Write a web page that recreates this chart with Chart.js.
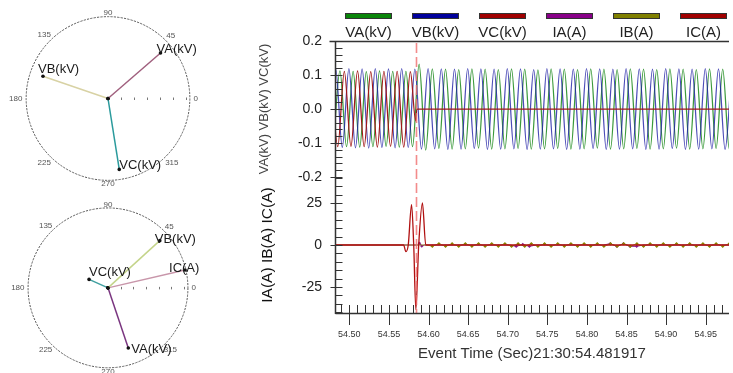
<!DOCTYPE html>
<html><head><meta charset="utf-8">
<script src="https://cdn.jsdelivr.net/npm/chart.js@4.4.0/dist/chart.umd.min.js"></script>
<style>
html,body{margin:0;padding:0;background:#fff;overflow:hidden;width:733px;height:373px;}
#wrap{position:relative;width:733px;height:373px;font-family:"Liberation Sans",Arial,sans-serif;}
canvas{position:absolute;}
.lgbar{position:absolute;height:6px;width:47px;box-sizing:border-box;border:1px solid #333;}
.lgtxt{position:absolute;width:80px;text-align:center;font-size:15px;color:#222;line-height:18px;}
</style></head><body><div id="wrap">
<canvas id="p1" width="216" height="197" style="left:0;top:0;width:216px;height:197px"></canvas>
<canvas id="p2" width="216" height="176" style="left:0;top:197px;width:216px;height:176px"></canvas>
<canvas id="main" width="483" height="373" style="left:250px;top:0;width:483px;height:373px"></canvas>
<div id="legend"></div>
</div>
<script>
// ---------------- data ----------------
const seriesNames = ['VA(kV)','VB(kV)','VC(kV)','IA(A)','IB(A)','IC(A)'];
const eventStart = 54.481917;
const xEnd = 54.9794;
const halfCycle = 1/120;
const faultTime = 54.5844;
const xTickValues = [54.50,54.55,54.60,54.65,54.70,54.75,54.80,54.85,54.90,54.95];
const vTickValues = [-0.2,-0.1,0.0,0.1,0.2];
const iTickValues = [-25,0,25];

// successive half-cycle extremes of each voltage (kV)
const vaStart = 54.4798;
const vaExtremes = [-0.110,0.112,-0.111,0.111,-0.112,0.110,-0.111,0.112,-0.110,0.111,-0.112,0.111,-0.111,
  0.132,-0.121,
  0.118,-0.116,0.117,-0.118,0.116,-0.117,0.118,-0.115,0.117,-0.118,
  0.116,-0.117,0.118,-0.116,0.117,-0.118,0.115,-0.117,0.118,-0.116,
  0.117,-0.118,0.116,-0.117,0.118,-0.115,0.117,-0.118,0.116,-0.117,
  0.118,-0.116,0.117,-0.118,0.116,-0.117,0.118,-0.115,0.117,-0.118,
  0.116,-0.117,0.118,-0.116,0.117,-0.118,0.116];
const vbStart = 54.47446;
const vbExtremes = [-0.114,0.118,-0.113,0.119,-0.114,0.118,-0.115,0.119,-0.113,0.118,-0.114,0.119,-0.113,0.117,
  -0.118,0.119,-0.117,0.118,-0.119,0.117,-0.118,0.119,-0.116,0.118,
  -0.119,0.117,-0.118,0.119,-0.117,0.118,-0.119,0.116,-0.118,0.119,
  -0.117,0.118,-0.119,0.117,-0.118,0.119,-0.116,0.118,-0.119,0.117,
  -0.118,0.119,-0.117,0.118,-0.119,0.117,-0.118,0.119,-0.116,0.118,
  -0.119,0.117,-0.118,0.119,-0.117,0.118,-0.119,0.117];
const vcStart = 54.47705;
const vcExtremes = [0.110,-0.111,0.111,-0.110,0.112,-0.111,0.110,-0.112,0.111,-0.110,0.111,-0.112,0.110];
const vcTailTimes = [54.5838,54.5852,54.9900];
const vcTailValues = [-0.035,0,0];

// currents (A)
const icTimes  = [54.4700,54.5685,54.5715,54.5744,54.5786,54.5813,54.5840,54.5876,54.5923,54.5965,54.9900];
const icValues = [0,0,-4,0,24,0,-38.5,0,25,0,0];
const ibLeadTimes = [54.4700,54.5980];
const ibLeadValues = [0,0];
const ibStart = 54.6048;
const ibExtremes = [-0.7,0.8,-0.8,0.7,-0.8,0.8,-0.7,0.8,-0.8,0.8,
  -0.7,0.8,-0.8,0.7,-0.8,0.8,-0.8,0.7,-0.8,0.8,
  -0.7,0.8,-0.8,0.8,-0.7,0.8,-0.8,0.7,-0.8,0.8,
  -0.8,0.7,-0.8,0.8,-0.7,0.8,-0.8,0.8,-0.7,0.8,
  -0.8,0.7,-0.8,0.8,-0.7,0.8];
const iaTimes  = [54.4700,54.5860,54.5885,54.5915,54.5945,54.7024,54.7107,54.7190,54.7274,54.7357,54.8211,54.8294,54.8378,54.8461,54.8544,54.8628,54.8711,54.9900];
const iaValues = [0,0,1.0,-0.6,0,0,-0.8,0.3,-0.8,0,0,0.8,-0.8,0.8,-0.8,-0.8,0,0];

// phasor diagrams
const angleLabels = [0,45,90,135,180,225,270,315];
const topNames  = ['VA(kV)','VB(kV)','VC(kV)'];
const topMags   = [0.85,0.84,0.88];
const topAngles = [41,161,279];
const botNames  = ['VB(kV)','IC(A)','VC(kV)','VA(kV)'];
const botMags   = [0.88,0.99,0.26,0.80];
const botAngles = [42.6,13.2,155.7,288.5];

// ---------------- styles ----------------
const FONT = '"Liberation Sans", Arial, sans-serif';
Chart.defaults.font.family = FONT;
const legendColors = ['#0a850a','#00009c','#a00000','#880088','#808000','#a00000'];
const lineColors = {VA:'rgba(25,135,25,0.85)', VB:'rgba(30,30,165,0.8)', VC:'#a01818', IA:'#8a1a8a', IB:'#8a8200', IC:'#b01010'};
const topColors = ['#a0607e','#d8d2a4','#2a9a9c'];
const topLabelOff = [[-4,-4],[-5,-7],[0,-4]];
const botColors = ['#c4d48a','#c896aa','#40a0a0','#7a3680'];
const botLabelOff = [[-5,-1],[-16,-2],[0,-7],[3,1]];

// legend
const lg = document.getElementById('legend');
seriesNames.forEach((n,i)=>{
  const cx = 368.5 + i*67;
  const b = document.createElement('div'); b.className='lgbar';
  b.style.left=(cx-23.5)+'px'; b.style.top='13px'; b.style.background=legendColors[i];
  lg.appendChild(b);
  const t = document.createElement('div'); t.className='lgtxt'; t.textContent=n;
  t.style.left=(cx-40)+'px'; t.style.top='23px';
  lg.appendChild(t);
});

// ---------------- main chart ----------------
function gridSeries(start, vals){ return vals.map((v,i)=>({x:start+i*halfCycle, y:v})); }
function pairSeries(ts, vs){ return ts.map((t,i)=>({x:t, y:vs[i]})); }
const markerRadius = c => (c.raw && c.raw.y !== 0) ? 1.7 : 0;

const axisPlugin = {
  id:'axisDeco',
  afterDatasetsDraw(chart){
    const {ctx, chartArea:{left,right,top,bottom}, scales:{x,yV,yI}} = chart;
    ctx.save();
    // fault marker
    const fx = Math.round(x.getPixelForValue(faultTime))+0.5;
    ctx.strokeStyle='rgba(240,110,110,0.8)'; ctx.lineWidth=1.6; ctx.setLineDash([10,4]);
    ctx.beginPath(); ctx.moveTo(fx, top+2); ctx.lineTo(fx, bottom); ctx.stroke();
    ctx.setLineDash([]);
    ctx.strokeStyle='#333'; ctx.lineWidth=1.5;
    const L = Math.round(left)+0.5;
    ctx.beginPath();
    ctx.moveTo(L-6, Math.round(yV.getPixelForValue(0.2))+0.5); ctx.lineTo(right, Math.round(yV.getPixelForValue(0.2))+0.5);
    ctx.moveTo(L, top); ctx.lineTo(L, bottom+1);
    ctx.moveTo(L, Math.round(bottom)+0.5); ctx.lineTo(right, Math.round(bottom)+0.5);
    ctx.stroke();
    ctx.lineWidth=1;
    ctx.beginPath();
    for (let k=-10;k<=10;k++){
      const py = Math.round(yV.getPixelForValue(k*0.02))+0.5;
      ctx.moveTo(k%5===0 ? L-5 : L, py); ctx.lineTo(L+7, py);
    }
    for (let k=-8;k<=8;k++){
      const py = Math.round(yI.getPixelForValue(k*5))+0.5;
      ctx.moveTo(k%5===0 ? L-5 : L, py); ctx.lineTo(L+7, py);
    }
    for (let k=5449;k<=5497;k++){
      const px = Math.round(x.getPixelForValue(k/100))+0.5;
      if (px < left) continue;
      ctx.moveTo(px, bottom-8); ctx.lineTo(px, k%5===0 ? bottom+12 : bottom);
    }
    ctx.stroke();
    ctx.restore();
  }
};

const smooth = {cubicInterpolationMode:'monotone'};
new Chart(document.getElementById('main'), {
  type:'line',
  data:{ datasets:[
    Object.assign({label:seriesNames[0], data:gridSeries(vaStart, vaExtremes), yAxisID:'yV', borderColor:lineColors.VA, borderWidth:1.25, pointRadius:0, order:3}, smooth),
    Object.assign({label:seriesNames[1], data:gridSeries(vbStart, vbExtremes), yAxisID:'yV', borderColor:lineColors.VB, borderWidth:1.25, pointRadius:0, order:2}, smooth),
    Object.assign({label:seriesNames[2], data:gridSeries(vcStart, vcExtremes).concat(pairSeries(vcTailTimes, vcTailValues)), yAxisID:'yV', borderColor:lineColors.VC, borderWidth:1.25, pointRadius:0, order:1}, smooth),
    {label:seriesNames[3], data:pairSeries(iaTimes, iaValues), yAxisID:'yI', borderColor:lineColors.IA, backgroundColor:lineColors.IA, borderWidth:1, pointRadius:markerRadius, pointStyle:'rectRot', pointBorderWidth:0, tension:0, order:6},
    {label:seriesNames[4], data:pairSeries(ibLeadTimes, ibLeadValues).concat(gridSeries(ibStart, ibExtremes)), yAxisID:'yI', borderColor:lineColors.IB, backgroundColor:lineColors.IB, borderWidth:0.8, pointRadius:markerRadius, pointStyle:'rectRot', pointBorderWidth:0, tension:0, order:5},
    Object.assign({label:seriesNames[5], data:pairSeries(icTimes, icValues), yAxisID:'yI', borderColor:lineColors.IC, borderWidth:1.3, pointRadius:0, order:4}, smooth)
  ]},
  options:{
    responsive:false, animation:false, events:[],
    layout:{padding:{top:41,left:0,right:0,bottom:0}},
    plugins:{legend:{display:false}, tooltip:{enabled:false}},
    scales:{
      x:{type:'linear', position:'bottom', min:eventStart, max:xEnd,
        afterBuildTicks:s=>{ s.ticks = xTickValues.map(v=>({value:v})); },
        afterFit:s=>{ s.height=60; s.paddingLeft=0; s.paddingRight=0; },
        ticks:{autoSkip:false, maxRotation:0, padding:16, color:'#333', font:{size:9}, callback:v=>Number(v).toFixed(2)},
        grid:{display:false, drawTicks:false}, border:{display:false},
        title:{display:true, text:'Event Time (Sec)21:30:54.481917', color:'#333', font:{size:15}, padding:{top:0,bottom:10}}},
      yI:{type:'linear', position:'left', stack:'y', stackWeight:1, min:-40.5, max:40.5,
        afterBuildTicks:s=>{ s.ticks = iTickValues.map(v=>({value:v})); },
        afterFit:s=>{ s.width=85; s.paddingTop=0; s.paddingBottom=0; },
        ticks:{autoSkip:false, padding:13, color:'#222', font:{size:14}, callback:v=>String(v)},
        grid:{display:false, drawTicks:false}, border:{display:false},
        title:{display:true, text:'IA(A) IB(A) IC(A)', color:'#111', font:{size:15.5}, padding:{top:8,bottom:0}}},
      yV:{type:'linear', position:'left', stack:'y', stackWeight:1, min:-0.2, max:0.2,
        afterBuildTicks:s=>{ s.ticks = vTickValues.map(v=>({value:v})); },
        afterFit:s=>{ s.width=85; s.paddingTop=0; s.paddingBottom=0; },
        ticks:{autoSkip:false, padding:13, color:'#222', font:{size:14}, callback:v=>Number(v).toFixed(1)},
        grid:{display:false, drawTicks:false}, border:{display:false},
        title:{display:true, text:'VA(kV) VB(kV) VC(kV)', color:'#444', font:{size:13}, padding:{top:7,bottom:0}}}
    }
  },
  plugins:[axisPlugin]
});

// ---------------- phasor charts ----------------
const polarPlugin = {
  id:'polarDeco',
  beforeDatasetsDraw(chart, args, opts){
    const {ctx, scales:{x,y}} = chart;
    const cx = x.getPixelForValue(0), cy = y.getPixelForValue(0);
    const R = x.getPixelForValue(1) - cx;
    ctx.save();
    ctx.strokeStyle='#5a5a5a'; ctx.lineWidth=1; ctx.setLineDash([2.2,1.2]);
    ctx.beginPath(); ctx.arc(cx,cy,R,0,Math.PI*2); ctx.stroke();
    ctx.setLineDash([]);
    ctx.strokeStyle='#777';
    ctx.beginPath();
    for (let k=1;k<=6;k++){ const px=Math.round(cx+k*0.158*R)+0.5; ctx.moveTo(px,cy-1); ctx.lineTo(px,cy+1.5); }
    ctx.stroke();
    ctx.font='8px '+FONT; ctx.fillStyle='#555'; ctx.textAlign='center'; ctx.textBaseline='middle';
    angleLabels.forEach(a=>{
      const r = a*Math.PI/180; const w = ctx.measureText(String(a)).width;
      const d = R*1.045 + w/2*Math.abs(Math.cos(r));
      ctx.fillText(String(a), cx + d*Math.cos(r), cy - d*Math.sin(r));
    });
    ctx.restore();
  },
  afterDatasetsDraw(chart, args, opts){
    const {ctx} = chart;
    ctx.save();
    ctx.font='13px '+FONT; ctx.fillStyle='#1a1a1a'; ctx.textAlign='left'; ctx.textBaseline='middle';
    chart.data.datasets.forEach((ds,i)=>{
      const pt = chart.getDatasetMeta(i).data[1];
      const off = opts.offsets[i];
      ctx.fillText(ds.label, pt.x+off[0], pt.y+off[1]);
    });
    ctx.restore();
  }
};
function phasorChart(id, names, mags, angles, colors, offsets, R, cxPx, cyPx, w, h){
  const datasets = names.map((n,i)=>{
    const a = angles[i]*Math.PI/180;
    return {label:n, data:[{x:0,y:0},{x:mags[i]*Math.cos(a), y:mags[i]*Math.sin(a)}],
      showLine:true, borderColor:colors[i], borderWidth:1.5, pointRadius:1.8,
      pointBackgroundColor:'#111', pointBorderWidth:0};
  });
  new Chart(document.getElementById(id), {
    type:'scatter', data:{datasets},
    options:{responsive:false, animation:false, events:[],
      layout:{padding:0},
      plugins:{legend:{display:false}, tooltip:{enabled:false}, polarDeco:{offsets}},
      scales:{
        x:{type:'linear', display:false, min:-cxPx/R, max:(w-cxPx)/R},
        y:{type:'linear', display:false, min:-(h-cyPx)/R, max:cyPx/R}
      }},
    plugins:[polarPlugin]
  });
}
phasorChart('p1', topNames, topMags, topAngles, topColors, topLabelOff, 85, 108, 98.5, 216, 197);
phasorChart('p2', botNames, botMags, botAngles, botColors, botLabelOff, 83, 108, 91, 216, 176);
</script>
</body></html>
